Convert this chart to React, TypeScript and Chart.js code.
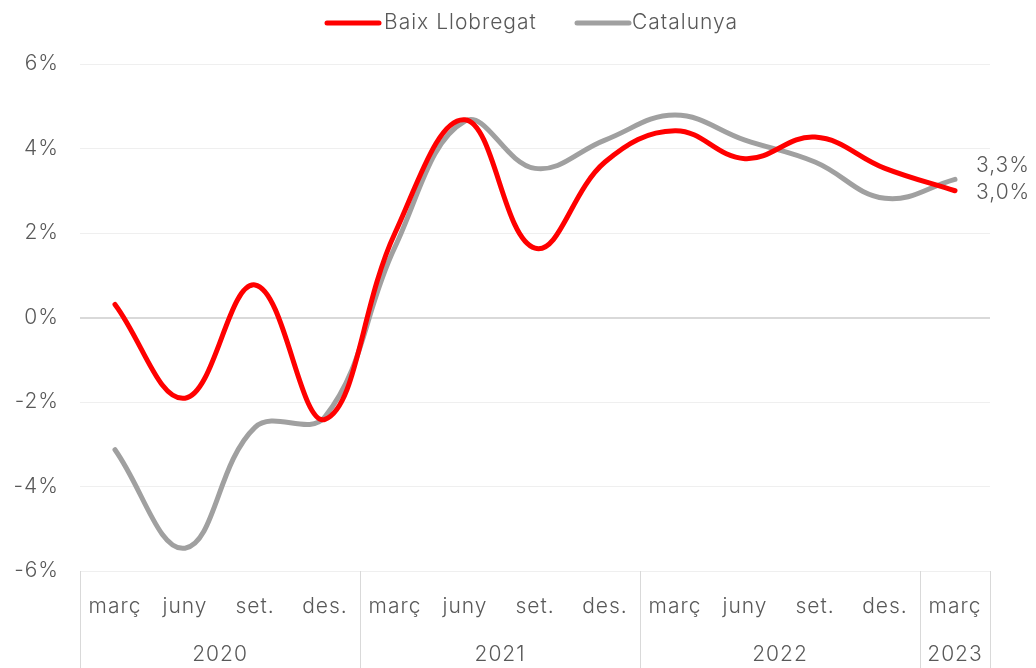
import React, { useEffect, useRef } from "react";
import { Chart, registerables } from "chart.js";

Chart.register(...registerables);

const months = ["març", "juny", "set.", "des.", "març", "juny", "set.", "des.", "març", "juny", "set.", "des.", "març"];
const years = ["2020", "2021", "2022", "2023"];
const yearSpans = [4, 4, 4, 1];
const baixLlobregat = [0.31, -1.91, 0.77, -2.41, 2.0, 4.68, 1.64, 3.68, 4.42, 3.76, 4.27, 3.53, 3.0];
const catalunya = [-3.13, -5.46, -2.6, -2.35, 1.67, 4.65, 3.53, 4.2, 4.79, 4.2, 3.68, 2.82, 3.27];
const seriesNames = ["Baix Llobregat", "Catalunya"];
const seriesColors = ["#ff0000", "#a0a0a0"];
const endLabels = ["3,0%", "3,3%"];

const FONT = "Inter, 'Open Sans', sans-serif";
const TEXT = "#595959";
const SIZE = 21;

export default function App() {
  const ref = useRef<HTMLCanvasElement | null>(null);

  useEffect(() => {
    document.body.style.margin = "0";
    const canvas = ref.current;
    if (!canvas) return;

    const overlay = {
      id: "overlay",
      beforeInit(chart: any) {
        chart.ctx.letterSpacing = "1px";
      },
      beforeDraw(chart: any) {
        chart.ctx.letterSpacing = "1px";
      },
      afterDraw(chart: any) {
        const ctx = chart.ctx;
        const xs = chart.scales.x;
        const area = chart.chartArea;
        ctx.save();
        ctx.letterSpacing = "1px";
        ctx.strokeStyle = "#d9d9d9";
        ctx.lineWidth = 1;
        let idx = 0;
        const half = (xs.getPixelForValue(1) - xs.getPixelForValue(0)) / 2;
        const bounds: number[] = [xs.getPixelForValue(0) - half];
        yearSpans.forEach((s) => {
          idx += s;
          bounds.push(xs.getPixelForValue(idx - 1) + half);
        });
        bounds.forEach((b) => {
          const x = Math.round(b) + 0.5;
          ctx.beginPath();
          ctx.moveTo(x, area.bottom);
          ctx.lineTo(x, chart.height);
          ctx.stroke();
        });
        ctx.fillStyle = TEXT;
        ctx.font = `300 ${SIZE}px ${FONT}`;
        ctx.textAlign = "center";
        ctx.textBaseline = "middle";
        years.forEach((y, i) => {
          ctx.fillText(y, (bounds[i] + bounds[i + 1]) / 2, 655);
        });
        ctx.textAlign = "left";
        const last = months.length - 1;
        const ys = chart.scales.y;
        const lx = xs.getPixelForValue(last) + 21;
        ctx.fillText(endLabels[1], lx, ys.getPixelForValue(catalunya[last]) - 14);
        ctx.fillText(endLabels[0], lx, ys.getPixelForValue(baixLlobregat[last]) + 2);
        const items = [
          { x: 327, tx: 384 },
          { x: 577, tx: 632 },
        ];
        items.forEach((it, i) => {
          ctx.strokeStyle = seriesColors[i];
          ctx.lineWidth = 5;
          ctx.lineCap = "round";
          ctx.beginPath();
          ctx.moveTo(it.x, 23);
          ctx.lineTo(it.x + 52, 23);
          ctx.stroke();
          ctx.fillStyle = TEXT;
          ctx.fillText(seriesNames[i], it.tx, 23);
        });
        ctx.restore();
      },
    };

    const chart = new Chart(canvas, {
      type: "line",
      data: {
        labels: months,
        datasets: [
          { label: seriesNames[0], data: baixLlobregat, borderColor: seriesColors[0], borderWidth: 5, pointRadius: 0, tension: 0.4, borderCapStyle: "round" },
          { label: seriesNames[1], data: catalunya, borderColor: seriesColors[1], borderWidth: 5, pointRadius: 0, tension: 0.4, borderCapStyle: "round" },
        ],
      },
      options: {
        animation: false,
        responsive: false,
        layout: { padding: { top: 64, right: 46, left: 0, bottom: 0 } },
        plugins: { legend: { display: false }, tooltip: { enabled: false } },
        scales: {
          x: {
            offset: true,
            grid: { display: false, drawTicks: false },
            border: { display: false },
            ticks: { color: TEXT, font: { size: SIZE, family: FONT, weight: "300" }, padding: 23, maxRotation: 0, autoSkip: false },
            afterFit: (s: any) => { s.height = 97; },
          },
          y: {
            min: -6,
            max: 6,
            border: { display: false },
            grid: {
              drawTicks: false,
              color: (c: any) => (c.tick && c.tick.value === 0 ? "#d9d9d9" : "#efefef"),
              lineWidth: (c: any) => (c.tick && c.tick.value === 0 ? 2 : 1),
            },
            ticks: { stepSize: 2, color: TEXT, font: { size: SIZE, family: FONT, weight: "300" }, padding: 21, callback: (v: any) => `${v}%` },
            afterFit: (s: any) => { s.width = 80; },
          },
        },
      },
      plugins: [overlay],
    });
    return () => chart.destroy();
  }, []);

  return <canvas ref={ref} width={1036} height={668} style={{ display: "block" }} />;
}
